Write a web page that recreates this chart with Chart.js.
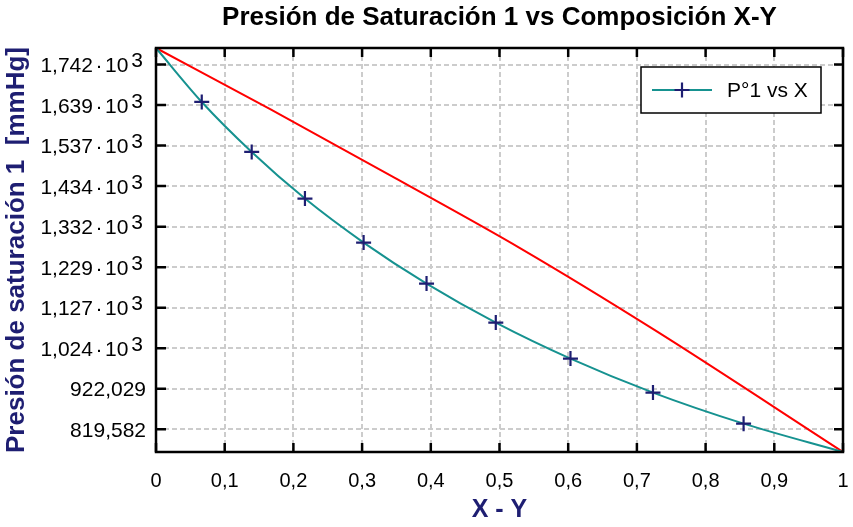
<!DOCTYPE html>
<html>
<head>
<meta charset="utf-8">
<script src="https://cdn.jsdelivr.net/npm/chart.js@4.4.0/dist/chart.umd.min.js"></script>
<style>
  html, body { margin: 0; padding: 0; background: #fff; }
</style>
</head>
<body>
<canvas id="chart" width="853" height="527"></canvas>
<script>
// axis ticks
const xTicks = [0, 0.1, 0.2, 0.3, 0.4, 0.5, 0.6, 0.7, 0.8, 0.9, 1];
const xTickLabels = ['0', '0,1', '0,2', '0,3', '0,4', '0,5', '0,6', '0,7', '0,8', '0,9', '1'];
const yTicks = [819.582, 922.029, 1024.476, 1126.923, 1229.370, 1331.817, 1434.264, 1536.711, 1639.158, 1741.605];
const yTickLabels = ['819,582', '922,029', '1,024·10³', '1,127·10³', '1,229·10³', '1,332·10³', '1,434·10³', '1,537·10³', '1,639·10³', '1,742·10³'];
const yMin = 762.2;
const yMax = 1783.4;

// P°1 vs X (curve with markers, ends have no marker)
const curveX = [0, 0.0666, 0.1393, 0.2168, 0.3022, 0.3938, 0.4946, 0.6033, 0.7234, 0.8553, 1];
const curveP = [1783.4, 1647.0, 1520.6, 1402.8, 1291.6, 1187.9, 1089.3, 998.3, 912.3, 833.9, 762.2];
// red curve (slightly bowed)
const lineX = [0, 0.1662, 0.3523, 0.5298, 0.7261, 1];
const lineP = [1783.4, 1629.1, 1450.5, 1277.5, 1070.1, 762.2];

const NAVY = '#1e1e72';
const TEAL = '#169290';
const FONT = "'Liberation Sans', Arial, sans-serif";

// y labels like 1,742·10³ are drawn with a full size raised exponent
function drawYLabel(ctx, label, right, py) {
    ctx.font = '21px ' + FONT;
    ctx.fillStyle = '#000';
    ctx.textBaseline = 'alphabetic';
    ctx.textAlign = 'left';
    const base = py + 7.5;
    if (!label.endsWith('³')) {
        ctx.textAlign = 'right';
        ctx.fillText(label, right, base);
        return;
    }
    const [mant, ten] = label.slice(0, -1).split('·');
    const wm = ctx.measureText(mant).width;
    const wd = ctx.measureText('·').width;
    const wt = ctx.measureText(ten).width;
    const we = ctx.measureText('3').width;
    let x = right - 3 - (wm + 2.5 + wd + 2.5 + wt + 3 + we);
    ctx.fillText(mant, x, base); x += wm + 2.5;
    ctx.fillText('·', x, base); x += wd + 2.5;
    ctx.fillText(ten, x, base); x += wt + 3;
    ctx.fillText('3', x, base - 5);
}

const frame = {
    id: 'frame',
    afterDraw(chart) {
        const { ctx, chartArea: a, scales: { x, y } } = chart;
        ctx.save();
        ctx.setLineDash([]);
        ctx.strokeStyle = '#000';
        ctx.lineWidth = 2.5;

        // inward tick marks on all four sides
        ctx.beginPath();
        xTicks.forEach(v => {
            const px = x.getPixelForValue(v);
            ctx.moveTo(px, a.top); ctx.lineTo(px, a.top + 9);
            ctx.moveTo(px, a.bottom); ctx.lineTo(px, a.bottom - 9);
        });
        yTicks.forEach(v => {
            const py = y.getPixelForValue(v);
            ctx.moveTo(a.left, py); ctx.lineTo(a.left + 10, py);
            ctx.moveTo(a.right, py); ctx.lineTo(a.right - 9, py);
        });
        ctx.stroke();
        ctx.strokeRect(a.left, a.top, a.right - a.left, a.bottom - a.top);

        yTicks.forEach((v, i) => drawYLabel(ctx, yTickLabels[i], a.left - 10, y.getPixelForValue(v)));

        // title centred over the plot
        ctx.fillStyle = '#000';
        ctx.font = 'bold 26px ' + FONT;
        ctx.textAlign = 'center';
        ctx.textBaseline = 'middle';
        ctx.fillText('Presión de Saturación 1 vs Composición X-Y', (a.left + a.right) / 2, 18);

        // legend box
        const lx = a.right - 202, ly = a.top + 19, lw = 180, lh = 46;
        ctx.fillStyle = '#fff';
        ctx.fillRect(lx, ly, lw, lh);
        ctx.strokeStyle = '#000';
        ctx.lineWidth = 1.5;
        ctx.strokeRect(lx, ly, lw, lh);
        const cy = ly + lh / 2;
        ctx.strokeStyle = TEAL;
        ctx.lineWidth = 2;
        ctx.beginPath();
        ctx.moveTo(lx + 11, cy); ctx.lineTo(lx + 71, cy);
        ctx.stroke();
        ctx.strokeStyle = NAVY;
        ctx.lineWidth = 2.2;
        ctx.beginPath();
        ctx.moveTo(lx + 41 - 7.5, cy); ctx.lineTo(lx + 41 + 7.5, cy);
        ctx.moveTo(lx + 41, cy - 7.5); ctx.lineTo(lx + 41, cy + 7.5);
        ctx.stroke();
        ctx.fillStyle = '#000';
        ctx.font = '21px ' + FONT;
        ctx.textAlign = 'left';
        ctx.textBaseline = 'middle';
        ctx.fillText('P°1 vs X', lx + 86, cy + 1);
        ctx.restore();
    }
};

new Chart(document.getElementById('chart'), {
    type: 'line',
    data: {
        datasets: [
            {
                label: 'P°1 vs X',
                data: curveX.map((v, i) => ({ x: v, y: curveP[i] })),
                borderColor: TEAL,
                borderWidth: 2,
                cubicInterpolationMode: 'monotone',
                pointStyle: 'cross',
                pointRadius: curveX.map((v, i) => (i === 0 || i === curveX.length - 1) ? 0 : 7.5),
                pointBorderColor: NAVY,
                pointBorderWidth: 2.2,
                clip: false
            },
            {
                label: 'linea',
                data: lineX.map((v, i) => ({ x: v, y: lineP[i] })),
                borderColor: '#ff0000',
                borderWidth: 2,
                cubicInterpolationMode: 'monotone',
                pointRadius: 0,
                clip: false
            }
        ]
    },
    options: {
        responsive: false,
        animation: false,
        layout: { padding: { top: 48, right: 10, left: 0, bottom: 0 } },
        plugins: {
            legend: { display: false },
            title: { display: false },
            tooltip: { enabled: false }
        },
        scales: {
            x: {
                type: 'linear',
                min: 0,
                max: 1,
                afterBuildTicks: s => { s.ticks = xTicks.map(v => ({ value: v })); },
                afterFit: s => { s.height = 75; s.paddingLeft = 0; s.paddingRight = 0; },
                ticks: {
                    callback: (v, i) => xTickLabels[i],
                    color: '#000',
                    font: { family: FONT, size: 20 },
                    padding: 17,
                    maxRotation: 0,
                    autoSkip: false
                },
                grid: { color: '#cccccc', lineWidth: 2, drawTicks: false },
                border: { display: false, dash: [5, 3] },
                title: {
                    display: true,
                    text: 'X - Y',
                    color: NAVY,
                    font: { family: FONT, size: 25, weight: 'bold' },
                    padding: { top: 0, bottom: 2 }
                }
            },
            y: {
                type: 'linear',
                min: yMin,
                max: yMax,
                afterBuildTicks: s => { s.ticks = yTicks.map(v => ({ value: v })); },
                afterFit: s => { s.width = 156; s.paddingTop = 0; s.paddingBottom = 0; },
                ticks: { display: false },
                grid: { color: '#cccccc', lineWidth: 2, drawTicks: false },
                border: { display: false, dash: [5, 3] },
                title: {
                    display: true,
                    text: 'Presión de saturación 1  [mmHg]',
                    color: NAVY,
                    font: { family: FONT, size: 26, weight: 'bold' },
                    padding: { top: 1, bottom: 0 }
                }
            }
        }
    },
    plugins: [frame]
});
</script>
</body>
</html>
